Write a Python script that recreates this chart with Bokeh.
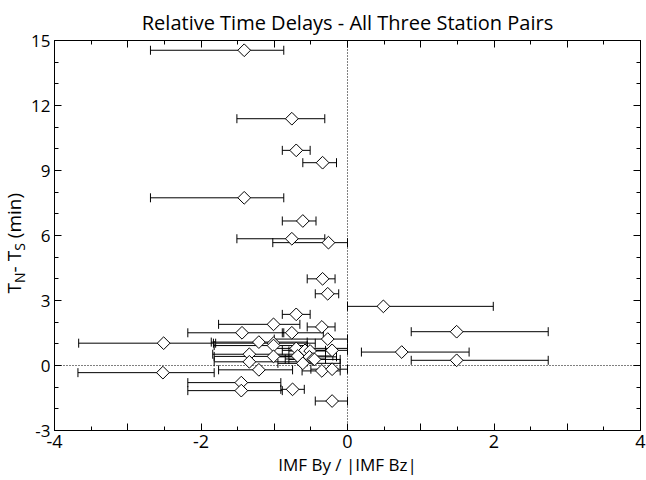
import math
from bokeh.plotting import figure
from bokeh.layouts import row
from bokeh.models import (ColumnDataSource, Range1d, FixedTicker, LinearAxis,
                          Whisker, TeeHead, Span, Label)
from bokeh.embed import file_html
from bokeh.resources import INLINE

# ---- data ----
by_bz = [-1.41, -0.76, -0.70, -0.34, -1.41, -0.61, -0.76, -0.26, -0.34, -0.27,
         0.49, -0.70, -1.01, -0.35, -1.44, 1.49, -0.76, -0.27, -2.51, -1.21,
         -1.01, -1.01, -0.70, -0.58, -0.51, -0.21, 0.74, -1.34, -1.01, -0.68,
         -0.52, -0.47, -1.34, -0.61, -0.45, 1.49, -1.21, -0.35, -0.21, -2.52,
         -1.45, -1.45, -0.75, -0.21]
delay = [14.55, 11.39, 9.93, 9.36, 7.74, 6.67, 5.85, 5.67, 4.00, 3.31,
         2.73, 2.36, 1.90, 1.78, 1.51, 1.56, 1.51, 1.22, 1.03, 1.08,
         1.03, 0.92, 0.79, 0.70, 0.67, 0.70, 0.62, 0.52, 0.42, 0.44,
         0.40, 0.30, 0.17, 0.10, 0.28, 0.24, -0.20, -0.25, -0.17, -0.33,
         -0.79, -1.16, -1.10, -1.64]
by_bz_lo = [-2.69, -1.51, -0.89, -0.61, -2.69, -0.89, -1.51, -1.02, -0.55, -0.44,
            0.00, -0.89, -1.76, -0.55, -2.18, 0.87, -0.89, -1.00, -3.67, -1.86,
            -1.80, -1.82, -1.00, -0.89, -0.80, -0.50, 0.19, -1.84, -1.82, -1.00,
            -1.00, -0.85, -1.82, -0.95, -0.80, 0.87, -1.76, -0.62, -0.50, -3.68,
            -2.18, -2.18, -0.91, -0.44]
by_bz_hi = [-0.87, -0.31, -0.51, -0.15, -0.87, -0.43, -0.31, 0.00, -0.17, -0.12,
            1.99, -0.51, -0.65, -0.17, -0.87, 2.74, -0.33, 0.00, -1.83, -0.55,
            -0.44, -0.55, 0.00, -0.30, -0.20, 0.00, 1.66, -0.52, -0.52, -0.20,
            -0.15, -0.30, -0.55, -0.10, -0.10, 2.74, -0.75, -0.10, 0.00, -1.82,
            -0.91, -0.89, -0.59, 0.00]

x_ticks = [-4, -3, -2, -1, 0, 1, 2, 3, 4]
x_tick_labels = ["-4", "", "-2", "", "0", "", "2", "", "4"]
x_minor = [-3.5, -2.5, -1.5, -0.5, 0.5, 1.5, 2.5, 3.5]
y_ticks = [-3, 0, 3, 6, 9, 12, 15]
y_tick_labels = ["-3", "0", "3", "6", "9", "12", "15"]
y_minor = [-2, -1, 1, 2, 4, 5, 7, 8, 10, 11, 13, 14]

title_text = "Relative Time Delays - All Three Station Pairs"
x_title = "IMF By / |IMF Bz|"
# y title pieces: (text, is_subscript); the gap before "(min)" is added as spacing
y_title_parts = [("T", False), ("N", True), ("- T", False), ("S", True), ("(min)", False)]

FONT = "Open Sans"
H = 480
LEFT_W = 28

src = ColumnDataSource(dict(x=by_bz, y=delay, lo=by_bz_lo, hi=by_bz_hi))

yr = Range1d(-3, 15)
p = figure(width=646 - LEFT_W, height=H, output_backend="svg", toolbar_location=None,
           x_range=Range1d(-4, 4), y_range=yr,
           min_border_left=25, min_border_right=6,
           min_border_top=40, min_border_bottom=50)
p.xgrid.visible = False
p.ygrid.visible = False
p.outline_line_color = "black"
p.outline_line_width = 1
p.background_fill_color = "white"
p.border_fill_color = "white"


def style_axis(ax, ticks, minor, labels):
    ax.ticker = FixedTicker(ticks=ticks, minor_ticks=minor)
    ax.axis_line_color = "black"
    ax.axis_line_width = 1
    ax.major_tick_in = 7
    ax.major_tick_out = 0
    ax.minor_tick_in = 4
    ax.minor_tick_out = 0
    ax.major_tick_line_color = "black"
    ax.minor_tick_line_color = "black"
    ax.major_label_overrides = {float(t): l for t, l in zip(ticks, labels)}
    ax.major_label_text_font = FONT
    ax.major_label_text_color = "black"


style_axis(p.xaxis[0], x_ticks, x_minor, x_tick_labels)
p.xaxis[0].major_label_text_font_size = "18px"
p.xaxis[0].major_label_standoff = 4
p.xaxis[0].axis_label = x_title
p.xaxis[0].axis_label_text_font = FONT
p.xaxis[0].axis_label_text_font_size = "17px"
p.xaxis[0].axis_label_text_font_style = "normal"
p.xaxis[0].axis_label_text_color = "black"
p.xaxis[0].axis_label_standoff = 2

style_axis(p.yaxis[0], y_ticks, y_minor, y_tick_labels)
p.yaxis[0].major_label_text_font_size = "17px"
p.yaxis[0].major_label_standoff = 4

top_ax = LinearAxis()
style_axis(top_ax, x_ticks, x_minor, [""] * len(x_ticks))
top_ax.major_label_text_font_size = "1px"
top_ax.major_label_standoff = 0
p.add_layout(top_ax, "above")
right_ax = LinearAxis()
style_axis(right_ax, y_ticks, y_minor, [""] * len(y_ticks))
right_ax.major_label_text_font_size = "1px"
right_ax.major_label_standoff = 0
p.add_layout(right_ax, "right")

p.title.text = title_text
p.title.align = "center"
p.title.text_font = FONT
p.title.text_font_size = "20px"
p.title.text_font_style = "normal"
p.title.text_color = "black"

# dotted zero lines
p.add_layout(Span(location=0, dimension="height", line_color="black",
                  line_dash="1 2", line_width=1, level="underlay"))
p.add_layout(Span(location=0, dimension="width", line_color="black",
                  line_dash="1 2", line_width=1, level="underlay"))

# horizontal error bars
p.add_layout(Whisker(source=src, base="y", lower="lo", upper="hi", dimension="width",
                     line_color="black", line_width=1,
                     lower_head=TeeHead(size=9, line_color="black", line_width=1),
                     upper_head=TeeHead(size=9, line_color="black", line_width=1)))

# diamond symbols
p.scatter(x="x", y="y", source=src, marker="square", angle=math.pi / 4, size=9,
          fill_color="white", line_color="black", line_width=1)

# left strip holding the rotated y-axis title with subscripts (shares the y range,
# its frame is aligned with the main frame by the row layout)
lf = figure(width=LEFT_W, height=H, output_backend="svg", toolbar_location=None,
            x_range=Range1d(0, LEFT_W), y_range=yr,
            x_axis_type=None, y_axis_type=None, min_border=0)
lf.outline_line_color = None
lf.background_fill_color = "white"
lf.border_fill_color = "white"

main_fs, sub_fs = 19, 14
# approximate advance widths (em) to chain pieces along the rotated baseline
adv = {"T": 0.556, "N": 0.753, "- T": 0.322 + 0.26 + 0.556, "S": 0.55 + 0.26 * main_fs / sub_fs}
off = 72.0  # px above the zero line where the title starts
for txt, is_sub in y_title_parts:
    fs = sub_fs if is_sub else main_fs
    lf.add_layout(Label(x=28 if is_sub else 26, y=0, y_offset=off, text=txt,
                        angle=math.pi / 2, text_align="left", text_baseline="bottom",
                        text_font=FONT, text_font_size=f"{fs}px", text_color="black"))
    off += adv.get(txt, 0) * fs

layout = row(lf, p)
open("out.html", "w").write(file_html(layout, INLINE))
